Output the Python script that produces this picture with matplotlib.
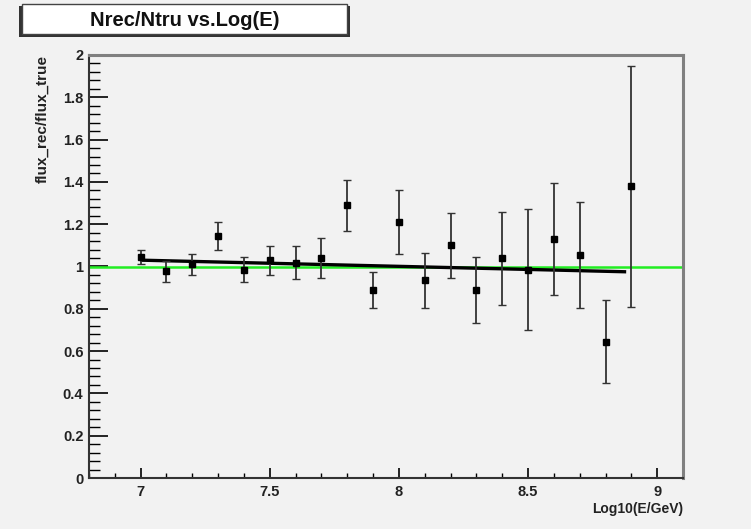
import matplotlib
matplotlib.use("Agg")
import matplotlib.pyplot as plt
from matplotlib.ticker import MultipleLocator, FuncFormatter
from matplotlib.patches import Rectangle

# ---- data ----
log_e = [7.0, 7.1, 7.2, 7.3, 7.4, 7.5, 7.6, 7.7, 7.8, 7.9,
         8.0, 8.1, 8.2, 8.3, 8.4, 8.5, 8.6, 8.7, 8.8, 8.9]
ratio = [1.045, 0.978, 1.01, 1.145, 0.985, 1.03, 1.018, 1.04, 1.29, 0.89,
         1.21, 0.935, 1.10, 0.89, 1.04, 0.985, 1.13, 1.055, 0.645, 1.38]
ratio_err = [0.035, 0.05, 0.05, 0.065, 0.06, 0.068, 0.077, 0.093, 0.12, 0.085,
             0.15, 0.13, 0.155, 0.155, 0.22, 0.285, 0.265, 0.25, 0.195, 0.57]
fit_x = [7.0, 8.88]
fit_y = [1.03, 0.975]
ref_level = 1.0
title = "Nrec/Ntru vs.Log(E)"
xlabel = "Log10(E/GeV)"
ylabel = "flux_rec/flux_true"

plt.rcParams['font.family'] = ['Liberation Sans', 'DejaVu Sans']
bg = '#f2f2f2'

fig = plt.figure(figsize=(7.51, 5.29), dpi=100, facecolor=bg)
W, H = 751, 529
ax = fig.add_axes([89 / W, 1 - 478 / H, (683 - 89) / W, (478 - 55) / H])
ax.set_facecolor(bg)

ax.set_xlim(6.8, 9.1)
ax.set_ylim(0, 2)

ax.axhline(ref_level, color='#22ee22', lw=1.8, zorder=2)
ax.plot(fit_x, fit_y, color='black', lw=2.4, solid_capstyle='butt', zorder=3)
ax.errorbar(log_e, ratio, yerr=ratio_err, fmt='s', color='black', ms=4,
            ecolor='#333333', elinewidth=1.3, capsize=3, capthick=1.0, zorder=4)

# ticks (ROOT style: inside)
ax.xaxis.set_major_locator(MultipleLocator(0.5))
ax.xaxis.set_minor_locator(MultipleLocator(0.1))
ax.yaxis.set_major_locator(MultipleLocator(0.2))
ax.yaxis.set_minor_locator(MultipleLocator(0.04))
ax.tick_params(axis='x', which='major', direction='in', length=7, width=1.2, pad=5,
               labelsize=10.5, top=False)
ax.tick_params(axis='x', which='minor', direction='in', length=3.5, width=1.0, top=False)
ax.tick_params(axis='y', which='major', direction='in', length=14, width=1.2, pad=4,
               labelsize=10.5, right=False)
ax.tick_params(axis='y', which='minor', direction='in', length=8, width=1.0, right=False)
ax.yaxis.set_major_formatter(FuncFormatter(lambda v, p: ('%g' % round(v, 2))))
ax.xaxis.set_major_formatter(FuncFormatter(lambda v, p: ('%g' % round(v, 2))))
for lab in ax.get_xticklabels() + ax.get_yticklabels():
    lab.set_fontweight('bold')
    lab.set_color('#222222')

for s in ['left', 'bottom']:
    ax.spines[s].set_color('#333333')
    ax.spines[s].set_linewidth(1.5)
for s in ['top', 'right']:
    ax.spines[s].set_color('#808080')
    ax.spines[s].set_linewidth(2.2)

fig.text(683 / W, 1 - 509 / H, xlabel, ha='right', va='center',
         fontsize=10, fontweight='bold', color='#222222')
fig.text(42 / W, 1 - 55 / H, ylabel, ha='center', va='top', rotation=90,
         fontsize=11, fontweight='bold', color='#222222')

# title box with shadow
fig.patches.append(Rectangle((19 / W, 1 - 37 / H), (350 - 19) / W, (37 - 6) / H,
                             transform=fig.transFigure, facecolor='#333333',
                             edgecolor='none', zorder=1))
fig.patches.append(Rectangle((22 / W, 1 - 34 / H), (347 - 22) / W, (34 - 4) / H,
                             transform=fig.transFigure, facecolor='white',
                             edgecolor='#444444', lw=1.0, zorder=2))
fig.text(185 / W, 1 - 20 / H, title, ha='center', va='center',
         fontsize=14.5, fontweight='bold', color='#111111', zorder=3)

fig.savefig('out.png', dpi=100, facecolor=bg)
